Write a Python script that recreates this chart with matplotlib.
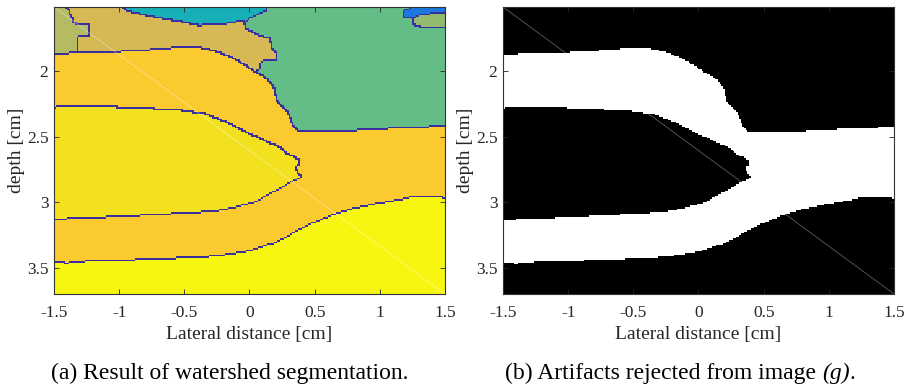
import numpy as np
import matplotlib
matplotlib.use("Agg")
import matplotlib.pyplot as plt
from matplotlib.path import Path
from matplotlib.colors import ListedColormap

plt.rcParams['font.family'] = ['Liberation Serif', 'DejaVu Serif']

# ---- axis ranges and ticks (cm) ----
x_range = (-1.5, 1.5)
depth_range = (1.51, 3.7)
x_ticks = [-1.5, -1, -0.5, 0, 0.5, 1, 1.5]
x_tick_labels = ['-1.5', '-1', '-0.5', '0', '0.5', '1', '1.5']
y_ticks = [2, 2.5, 3, 3.5]
y_tick_labels = ['2', '2.5', '3', '3.5']

# ---- segment labels and their colours ----
segment_names = ['ridge', 'olive', 'tan', 'cyan', 'green', 'blue', 'sage',
                 'band', 'core', 'deep']
segment_colors = ['#3a2f9e', '#b4bb63', '#d6b855', '#17b0b6', '#64bd87',
                  '#1b78de', '#92bb6f', '#fbca2f', '#f3e11f', '#f7f611']

# upper edge of the artifact band (lateral x, depth)
band_top_x = [-1.5, -1.0, -0.73, -0.5, -0.35, -0.24, -0.09, 0.01, 0.14, 0.19,
              0.22, 0.30, 0.34, 0.37, 0.73, 0.99, 1.37, 1.5]
band_top_y = [1.87, 1.855, 1.84, 1.82, 1.83, 1.855, 1.92, 1.985, 2.06, 2.12,
              2.24, 2.32, 2.42, 2.455, 2.46, 2.445, 2.43, 2.42]

# lower edge of the artifact band (top of the deep segment)
deep_top_x = [-1.5, -1.4, -1.25, -0.76, -0.33, -0.13, 0.0, 0.21, 0.39, 0.52,
              0.64, 0.77, 0.98, 1.155, 1.255, 1.46, 1.5]
deep_top_y = [3.46, 3.47, 3.455, 3.44, 3.42, 3.40, 3.375, 3.31, 3.21, 3.15,
              3.10, 3.06, 3.015, 2.985, 2.96, 2.96, 2.97]

# enclosed core segment inside the band
core_x = [-1.5, -1.25, -0.76, -0.51, -0.33, -0.17, -0.02, 0.135, 0.235, 0.29,
          0.335, 0.39, 0.39, 0.365, 0.37, 0.40, 0.335, 0.18, 0.10, 0.03, -0.02,
          -0.13, -0.28, -0.63, -1.02, -1.4, -1.5]
core_y = [2.28, 2.27, 2.29, 2.305, 2.33, 2.395, 2.47, 2.54, 2.585, 2.63,
          2.65, 2.68, 2.715, 2.73, 2.77, 2.81, 2.845, 2.93, 2.97, 3.01, 3.02,
          3.05, 3.075, 3.095, 3.115, 3.13, 3.14]

# shallow segments above the band
olive_x = [-1.5, -1.398, -1.385, -1.354, -1.346, -1.23, -1.223, -1.31, -1.316, -1.5]
olive_y = [1.50, 1.51, 1.53, 1.60, 1.64, 1.65, 1.73, 1.74, 1.90, 1.90]

cyan_x = [-0.97, -0.94, -0.69, -0.56, -0.38, -0.2, -0.05, -0.035, 0.2, 0.2]
cyan_y = [1.50, 1.545, 1.60, 1.62, 1.655, 1.645, 1.62, 1.64, 1.64, 1.50]

green_x = [0.14, 0.135, 0.0, -0.035, -0.02, 0.08, 0.16, 0.18, 0.21, 0.21,
           0.095, 0.08, 0.04, 0.40, 1.5, 1.5]
green_y = [1.50, 1.54, 1.60, 1.64, 1.68, 1.73, 1.755, 1.83, 1.87, 1.92,
           1.93, 1.985, 2.01, 2.70, 2.70, 1.50]

blue_x = [1.24, 1.23, 1.18, 1.19, 1.27, 1.295, 1.40, 1.5, 1.5]
blue_y = [1.50, 1.53, 1.545, 1.60, 1.60, 1.58, 1.565, 1.56, 1.50]

sage_x = [1.255, 1.295, 1.40, 1.5, 1.5, 1.32, 1.27, 1.265]
sage_y = [1.60, 1.58, 1.565, 1.56, 1.67, 1.67, 1.655, 1.62]

# ---- rasterise the segments on a pixel grid ----
nx, ny = 240, 175
xc = x_range[0] + (np.arange(nx) + 0.5) * (x_range[1] - x_range[0]) / nx
yc = depth_range[0] + (np.arange(ny) + 0.5) * (depth_range[1] - depth_range[0]) / ny
XX, YY = np.meshgrid(xc, yc)
pts = np.column_stack([XX.ravel(), YY.ravel()])


def inside(px, py):
    return Path(np.column_stack([px, py])).contains_points(pts).reshape(XX.shape)


label = np.full(XX.shape, segment_names.index('tan'))
for name, (px, py) in [('olive', (olive_x, olive_y)), ('cyan', (cyan_x, cyan_y)),
                       ('green', (green_x, green_y)), ('blue', (blue_x, blue_y)),
                       ('sage', (sage_x, sage_y))]:
    label[inside(px, py)] = segment_names.index(name)

top_edge = np.interp(XX, band_top_x, band_top_y)
bot_edge = np.interp(XX, deep_top_x, deep_top_y)
label[YY >= top_edge] = segment_names.index('band')
label[inside(core_x, core_y)] = segment_names.index('core')
label[YY >= bot_edge] = segment_names.index('deep')

band_mask = label == segment_names.index('band')

# watershed ridge lines between neighbouring segments
seg = label.copy()
edge = np.zeros_like(seg, dtype=bool)
edge[:, :-1] |= label[:, :-1] != label[:, 1:]
edge[:-1, :] |= label[:-1, :] != label[1:, :]
seg[edge] = segment_names.index('ridge')

# ---- figure ----
fig = plt.figure(figsize=(9.12, 3.87), dpi=100)
ax_pos_y = 1 - 294 / 387
ax_h = 287 / 387
ax_w = 391 / 912
ax1 = fig.add_axes([54 / 912, ax_pos_y, ax_w, ax_h])
ax2 = fig.add_axes([503 / 912, ax_pos_y, ax_w, ax_h])

extent = [x_range[0], x_range[1], depth_range[1], depth_range[0]]
cmap = ListedColormap(segment_colors)
ax1.imshow(seg, cmap=cmap, vmin=-0.5, vmax=len(segment_colors) - 0.5,
           extent=extent, interpolation='nearest', aspect='auto', zorder=1)
ax1.plot([0, 1], [1, 0], transform=ax1.transAxes, color='white', lw=0.5,
         alpha=0.5, zorder=2)

# binary mask: white band over a black background
rgba = np.zeros(band_mask.shape + (4,))
rgba[band_mask] = [1, 1, 1, 1]
ax2.set_facecolor('black')
ax2.plot([0, 1], [1, 0], transform=ax2.transAxes, color='#5c5c5c', lw=0.6,
         zorder=0.5)
ax2.imshow(rgba, extent=extent, interpolation='nearest', aspect='auto', zorder=1)

for ax in (ax1, ax2):
    ax.set_xlim(*x_range)
    ax.set_ylim(depth_range[1], depth_range[0])
    ax.set_xticks(x_ticks)
    ax.set_xticklabels(x_tick_labels)
    ax.set_yticks(y_ticks)
    ax.set_yticklabels(y_tick_labels)
    ax.tick_params(direction='in', length=3.5, width=0.6, colors='#262626',
                   top=True, right=True, labelsize=12.5, pad=4)
    ax.tick_params(axis='x', pad=8)
    for sp in ax.spines.values():
        sp.set_color('#333333')
        sp.set_linewidth(0.8)
        sp.set_zorder(3)
    ax.set_xlabel('Lateral distance [cm]', fontsize=14, color='#262626')
    ax.set_ylabel('depth [cm]', fontsize=14, color='#262626')
    ax.xaxis.set_label_coords(0.5, -0.112)
    ax.yaxis.set_label_coords(-0.075, 0.5)

# captions; the figure reference "(g)" is set in italics
cap_y = 0.021
fig.text(230 / 912, cap_y, '(a) Result of watershed segmentation.',
         ha='center', va='baseline', fontsize=17, color='black')

caption_parts = [('(b) Artifacts rejected from image ', 'normal'),
                 ('(g)', 'italic'), ('.', 'normal')]
renderer = fig.canvas.get_renderer()
pieces = [fig.text(0, cap_y, s, ha='left', va='baseline', fontsize=17,
                   style=st, color='black') for s, st in caption_parts]
widths = [p.get_window_extent(renderer).width for p in pieces]
x_px = 680 - sum(widths) / 2
for p, w in zip(pieces, widths):
    p.set_x(x_px / 912)
    x_px += w

fig.savefig('out.png', dpi=100)
